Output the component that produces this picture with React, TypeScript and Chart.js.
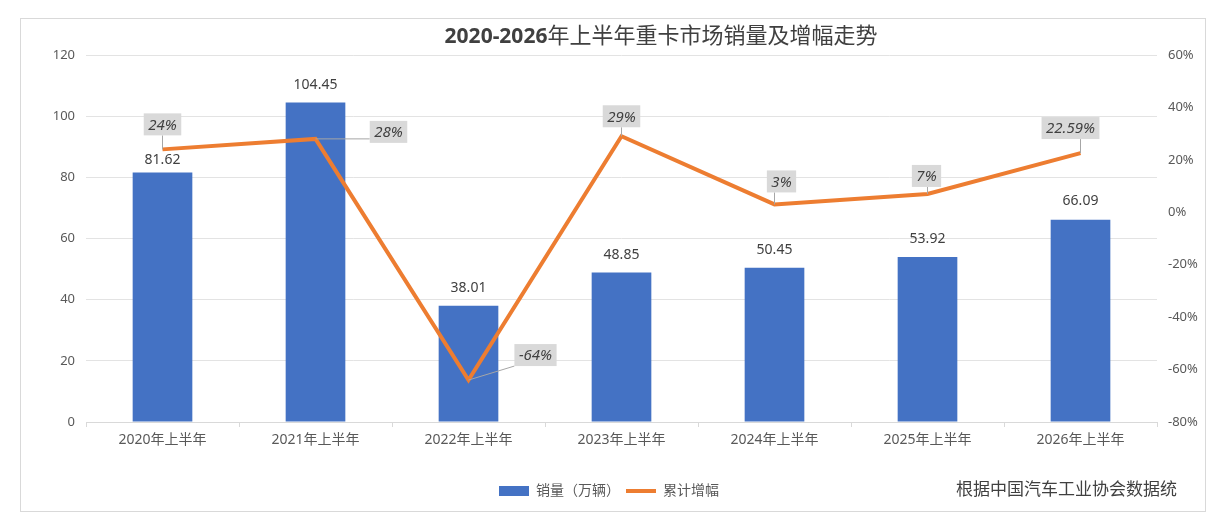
import { useEffect, useRef } from 'react';
import { Chart, registerables, Plugin } from 'chart.js';

Chart.register(...registerables);

const categories = [
  '2020年上半年',
  '2021年上半年',
  '2022年上半年',
  '2023年上半年',
  '2024年上半年',
  '2025年上半年',
  '2026年上半年',
];
const salesValues = [81.62, 104.45, 38.01, 48.85, 50.45, 53.92, 66.09];
const growthValues = [24, 28, -64, 29, 3, 7, 22.59];
const salesLabel = '销量（万辆）';
const growthLabel = '累计增幅';
const titleNumber = '2020-2026';
const titleText = '年上半年重卡市场销量及增幅走势';
const sourceNote = '根据中国汽车工业协会数据统';

const FONT = '"Noto Sans", "Noto Sans CJK SC", sans-serif';
const TEXT = '#404040';
const AXIS_TEXT = '#595959';

// where the grey growth boxes sit relative to their point (dx, dy)
const growthBoxOffsets = [
  [0, -25],
  [73, -7],
  [67, -25],
  [0, -20],
  [7, -23],
  [-1, -18],
  [-10, -25],
];
// how far above the bar top each value label is centred
const valueLabelLift = [12, 18, 18, 18, 18, 18, 19];

const decorPlugin: Plugin = {
  id: 'decor',
  beforeDraw(chart) {
    const { ctx, width, height } = chart;
    ctx.save();
    ctx.fillStyle = '#ffffff';
    ctx.fillRect(0, 0, width, height);
    ctx.strokeStyle = '#d9d9d9';
    ctx.lineWidth = 1;
    ctx.strokeRect(12.5, 10.5, 1185, 493);

    // title: bold digits, plain CJK
    ctx.textBaseline = 'middle';
    ctx.textAlign = 'left';
    ctx.fillStyle = TEXT;
    ctx.font = `bold 21px ${FONT}`;
    const w1 = ctx.measureText(titleNumber).width;
    ctx.font = `22px ${FONT}`;
    const w2 = ctx.measureText(titleText).width;
    const x0 = 653 - (w1 + w2) / 2;
    ctx.font = `bold 21px ${FONT}`;
    ctx.fillText(titleNumber, x0, 29);
    ctx.font = `22px ${FONT}`;
    ctx.fillText(titleText, x0 + w1, 29);

    // source note
    ctx.font = `17px ${FONT}`;
    ctx.textAlign = 'right';
    ctx.fillStyle = TEXT;
    ctx.fillText(sourceNote, 1169, 482);
    ctx.restore();
  },
  afterDraw(chart) {
    const { ctx } = chart;
    ctx.save();
    ctx.textAlign = 'center';
    ctx.textBaseline = 'middle';

    // bar value labels
    const barMeta = chart.getDatasetMeta(0);
    ctx.font = `14px ${FONT}`;
    ctx.fillStyle = TEXT;
    barMeta.data.forEach((el: any, i) => {
      ctx.fillText(salesValues[i].toFixed(2), el.x, el.y - valueLabelLift[i]);
    });

    // growth labels in grey boxes with leader lines
    const lineMeta = chart.getDatasetMeta(1);
    ctx.font = `italic 15px ${FONT}`;
    lineMeta.data.forEach((pt: any, i) => {
      const text = `${growthValues[i]}%`;
      const bw = ctx.measureText(text).width + 9;
      const bh = 22;
      const [dx, dy] = growthBoxOffsets[i];
      const cx = pt.x + dx;
      const cy = pt.y + dy;
      const nx = Math.min(Math.max(pt.x, cx - bw / 2), cx + bw / 2);
      const ny = Math.min(Math.max(pt.y, cy - bh / 2), cy + bh / 2);
      if (Math.hypot(nx - pt.x, ny - pt.y) > 3) {
        ctx.strokeStyle = '#a6a6a6';
        ctx.lineWidth = 1;
        ctx.beginPath();
        ctx.moveTo(pt.x, pt.y);
        ctx.lineTo(nx, ny);
        ctx.stroke();
      }
      ctx.fillStyle = '#d9d9d9';
      ctx.fillRect(cx - bw / 2, cy - bh / 2, bw, bh);
      ctx.fillStyle = TEXT;
      ctx.fillText(text, cx, cy + 1);
    });
    ctx.restore();
  },
};

export default function App() {
  const canvasRef = useRef<HTMLCanvasElement>(null);
  const chartRef = useRef<Chart | null>(null);

  useEffect(() => {
    if (!canvasRef.current) return;
    if (chartRef.current) chartRef.current.destroy();

    chartRef.current = new Chart(canvasRef.current, {
      type: 'bar',
      data: {
        labels: categories,
        datasets: [
          {
            type: 'bar',
            label: salesLabel,
            data: salesValues,
            backgroundColor: '#4472C4',
            borderWidth: 0,
            barPercentage: 0.39,
            categoryPercentage: 1,
            yAxisID: 'y',
            order: 1,
            pointStyle: 'rect',
          } as any,
          {
            type: 'line',
            label: growthLabel,
            data: growthValues,
            borderColor: '#ED7D31',
            backgroundColor: '#ED7D31',
            borderWidth: 4,
            pointRadius: 0,
            pointHoverRadius: 0,
            tension: 0,
            yAxisID: 'y1',
            order: 0,
            pointStyle: 'line',
          } as any,
        ],
      },
      options: {
        responsive: true,
        maintainAspectRatio: false,
        animation: false,
        layout: { padding: { top: 47, left: 0, right: 0, bottom: 6 } },
        plugins: {
          title: { display: false },
          tooltip: { enabled: false },
          legend: {
            display: true,
            position: 'bottom',
            labels: {
              usePointStyle: true,
              pointStyleWidth: 30,
              boxHeight: 10,
              padding: 6,
              color: AXIS_TEXT,
              font: { size: 14, family: FONT },
              sort: (a: any, b: any) => a.datasetIndex - b.datasetIndex,
            },
          },
        },
        scales: {
          x: {
            offset: true,
            grid: {
              drawOnChartArea: false,
              drawTicks: true,
              tickLength: 5,
              color: '#d9d9d9',
              offset: true,
            },
            border: { display: true, color: '#d9d9d9' },
            ticks: {
              color: AXIS_TEXT,
              font: { size: 14, family: FONT },
              padding: 5,
              maxRotation: 0,
            },
            afterFit: (s: any) => {
              s.height = 56;
            },
          },
          y: {
            position: 'left',
            min: 0,
            max: 120,
            grid: { color: '#e3e3e3', drawTicks: false },
            border: { display: false },
            ticks: {
              stepSize: 20,
              color: AXIS_TEXT,
              font: { size: 13, family: FONT },
              padding: 11,
            },
            afterFit: (s: any) => {
              s.width = 78;
            },
          },
          y1: {
            position: 'right',
            min: -80,
            max: 60,
            grid: { drawOnChartArea: false, drawTicks: false },
            border: { display: false },
            ticks: {
              stepSize: 20,
              color: AXIS_TEXT,
              font: { size: 13, family: FONT },
              padding: 11,
              callback: (v: any) => `${v}%`,
            },
            afterFit: (s: any) => {
              s.width = 53;
            },
          },
        },
      },
      plugins: [decorPlugin],
    });

    return () => {
      if (chartRef.current) {
        chartRef.current.destroy();
        chartRef.current = null;
      }
    };
  }, []);

  return (
    <div style={{ position: 'relative', width: 1202, height: 506 }}>
      <canvas ref={canvasRef} />
    </div>
  );
}
